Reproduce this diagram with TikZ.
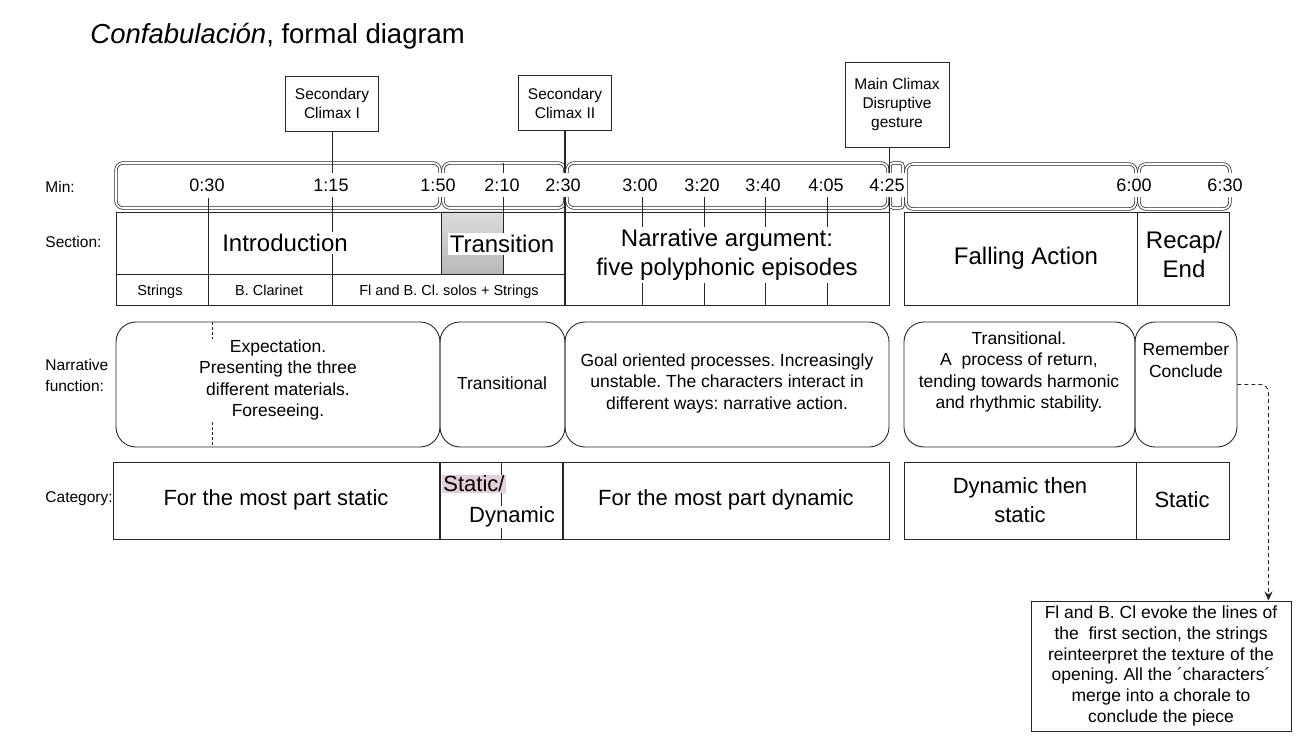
\documentclass[tikz,border=0pt]{standalone}
\usepackage{fontspec}
\setmainfont{Liberation Sans}
\usetikzlibrary{arrows.meta}
\definecolor{hlpink}{HTML}{E6CFDC}
\frenchspacing

\tikzset{
  timebox/.style={draw, double, double distance=1.8pt, line width=0.75pt, rounded corners=7pt},
  funbox/.style={draw, line width=0.9pt, rounded corners=20pt, inner sep=0pt},
  climaxbox/.style={draw, fill=white, align=center, inner sep=2pt, font=\fontsize{15.5}{19}\selectfont},
  timelbl/.style={fill=white, inner xsep=1pt, inner ysep=6pt, font=\fontsize{18}{21}\selectfont},
  rowlbl/.style={anchor=west, align=left, inner sep=0pt, font=\fontsize{15.5}{21}\selectfont},
  sectxt/.style={fill=white, align=center, inner sep=2pt, font=\fontsize{24}{29}\selectfont},
  cattxt/.style={align=center, inner sep=1pt, font=\fontsize{22}{29}\selectfont},
  midtxt/.style={fill=white, align=center, inner sep=1pt, font=\fontsize{17.5}{21.5}\selectfont},
  smalltxt/.style={anchor=base, inner sep=1pt, font=\fontsize{14.5}{17}\selectfont},
  notebox/.style={draw, align=center, line width=0.9pt, font=\fontsize{17.5}{20.8}\selectfont}
}

\begin{document}
\begin{tikzpicture}[x=1pt, y=-1pt, line width=0.9pt, draw=black!85]
    \useasboundingbox (0,0) rectangle (1298,738);
    % Title
    \node[anchor=west, inner sep=0pt, font=\fontsize{27.5}{31}\selectfont] (title) at (90,36) {\textit{Confabulación}, formal diagram};
    % Climax boxes
    \node[climaxbox, minimum width=93pt, minimum height=55pt] (climaxA) at (332,103.5) {Secondary\\Climax I};
    \node[climaxbox, minimum width=93pt, minimum height=55pt] (climaxB) at (565,103) {Secondary\\Climax II};
    \node[climaxbox, minimum width=104pt, minimum height=85pt] (climaxC) at (897,104.5) {Main Climax\\Disruptive\\gesture};
    % Row labels
    \node[rowlbl] (lblmin) at (45,187) {Min:};
    \node[rowlbl] (lblsec) at (45,242) {Section:};
    \node[rowlbl] (lblfun) at (45,375) {Narrative\\function:};
    \node[rowlbl] (lblcat) at (45,499) {Category:};
    % Timeline boxes
    \draw[timebox] (116,163) rectangle (440,208);
    \draw[timebox] (443,163) rectangle (565,208);
    \draw[timebox] (567,163) rectangle (888,208);
    \draw[timebox, rounded corners=3pt] (890,163) rectangle (903,208);
    \draw[timebox] (906,164) rectangle (1136,209);
    \draw[timebox] (1139,164) rectangle (1230,209);
    % Section cells
    \fill[top color=black!14, bottom color=black!28] (441,212) rectangle (503,274);
    \draw (116,212) rectangle (565,305);
    \draw (116,274) -- (565,274);
    \draw (441,212) -- (441,274);
    \draw (565,212) rectangle (889,305);
    \draw (904,212) rectangle (1229,305);
    \draw (1137,212) -- (1137,305);
    % Climax lines and 2:10 line
    \draw (climaxA.south) -- (332,305);
    \draw[line width=1.4pt] (climaxB.south) -- (565,305);
    \draw (climaxC.south -| 889,0) -- (889,305);
    \draw (503,163) -- (503,274);
    % Time labels
    \node[timelbl] (t030) at (207,185) {0:30};
    \node[timelbl] (t115) at (331,185) {1:15};
    \node[timelbl] (t150) at (438,185) {1:50};
    \node[timelbl] (t210) at (502,185) {2:10};
    \node[timelbl] (t230) at (563,185) {2:30};
    \node[timelbl] (t300) at (640,185) {3:00};
    \node[timelbl] (t320) at (702,185) {3:20};
    \node[timelbl] (t340) at (763,185) {3:40};
    \node[timelbl] (t405) at (826,185) {4:05};
    \node[timelbl] (t425) at (887,185) {4:25};
    \node[timelbl] (t600) at (1134,185) {6:00};
    \node[timelbl] (t630) at (1225,185) {6:30};
    % Ticks below the labels
    \draw (t030.south -| 208,0) -- (208,305);
    \foreach \x in {642,704,765,827} \draw (\x,197) -- (\x,305);
    % Section texts
    \node[sectxt] (intro) at (285,243) {Introduction};
    \node[sectxt] (trans) at (502,244) {Transition};
    \node[sectxt] (narr) at (727,255) {Narrative argument:\\five polyphonic episodes};
    \node[sectxt] (fall) at (1026,258) {Falling Action};
    \node[sectxt] (recap) at (1184,254) {Recap/\\End};
    \node[smalltxt] (strings) at (160,295) {Strings};
    \node[smalltxt] (bcl) at (269,295) {B. Clarinet};
    \node[smalltxt] (solos) at (449,295) {Fl and B. Cl. solos + Strings};
    % Narrative function boxes
    \node[funbox, minimum width=324pt, minimum height=125pt] (fb1) at (278,384.5) {};
    \node[funbox, minimum width=125pt, minimum height=125pt] (fb2) at (502.5,384.5) {};
    \node[funbox, minimum width=324pt, minimum height=125pt] (fb3) at (727,384.5) {};
    \node[funbox, minimum width=231pt, minimum height=125pt] (fb4) at (1019.5,384.5) {};
    \node[funbox, minimum width=102pt, minimum height=125pt] (fb5) at (1186,384.5) {};
    \draw[dash pattern=on 3pt off 2pt] (212,322) -- (212,447);
    \node[midtxt] (fx1) at (278,380) {Expectation.\\Presenting the three\\different materials.\\Foreseeing.};
    \node[midtxt] (fx2) at (502,383) {Transitional};
    \node[midtxt] (fx3) at (727,383) {Goal oriented processes. Increasingly\\unstable. The characters interact in\\different ways: narrative action.};
    \node[midtxt] (fx4) at (1019,372) {Transitional.\\A\ \ process of return,\\tending towards harmonic\\and rhythmic stability.};
    \node[midtxt] (fx5) at (1186,360) {Remember\\Conclude};
    % Category cells
    \draw (113,462) rectangle (889,539);
    \draw (501,462) -- (501,539);
    \draw[line width=2pt] (440,462) -- (440,539);
    \draw[line width=1.5pt] (563,462) -- (563,539);
    \draw (904,462) rectangle (1229,539);
    \draw (1136,462) -- (1136,539);
    \node[cattxt] (cat1) at (276,500) {For the most part static};
    \node[cattxt, anchor=west, fill=hlpink] (cat2a) at (442,484) {Static/};
    \node[cattxt, fill=white] (cat2b) at (512,517) {Dynamic};
    \node[cattxt] (cat3) at (726,500) {For the most part dynamic};
    \node[cattxt] (cat4) at (1020,500) {Dynamic then\\static};
    \node[cattxt] (cat5) at (1182,500) {Static};
    % Note and dashed arrow
    \node[notebox, minimum width=260pt, minimum height=130pt] (note) at (1161,666) {Fl and B. Cl evoke the lines of\\the\ \ first section, the strings\\reinteerpret the texture of the\\opening. All the ´characters´\\merge into a chorale to\\conclude the piece};
    \draw[dash pattern=on 4pt off 3pt, -{Stealth[length=9pt,width=8pt]}, rounded corners=8pt] (fb5.east) -| ([xshift=-23pt]note.north east);
\end{tikzpicture}
\end{document}
